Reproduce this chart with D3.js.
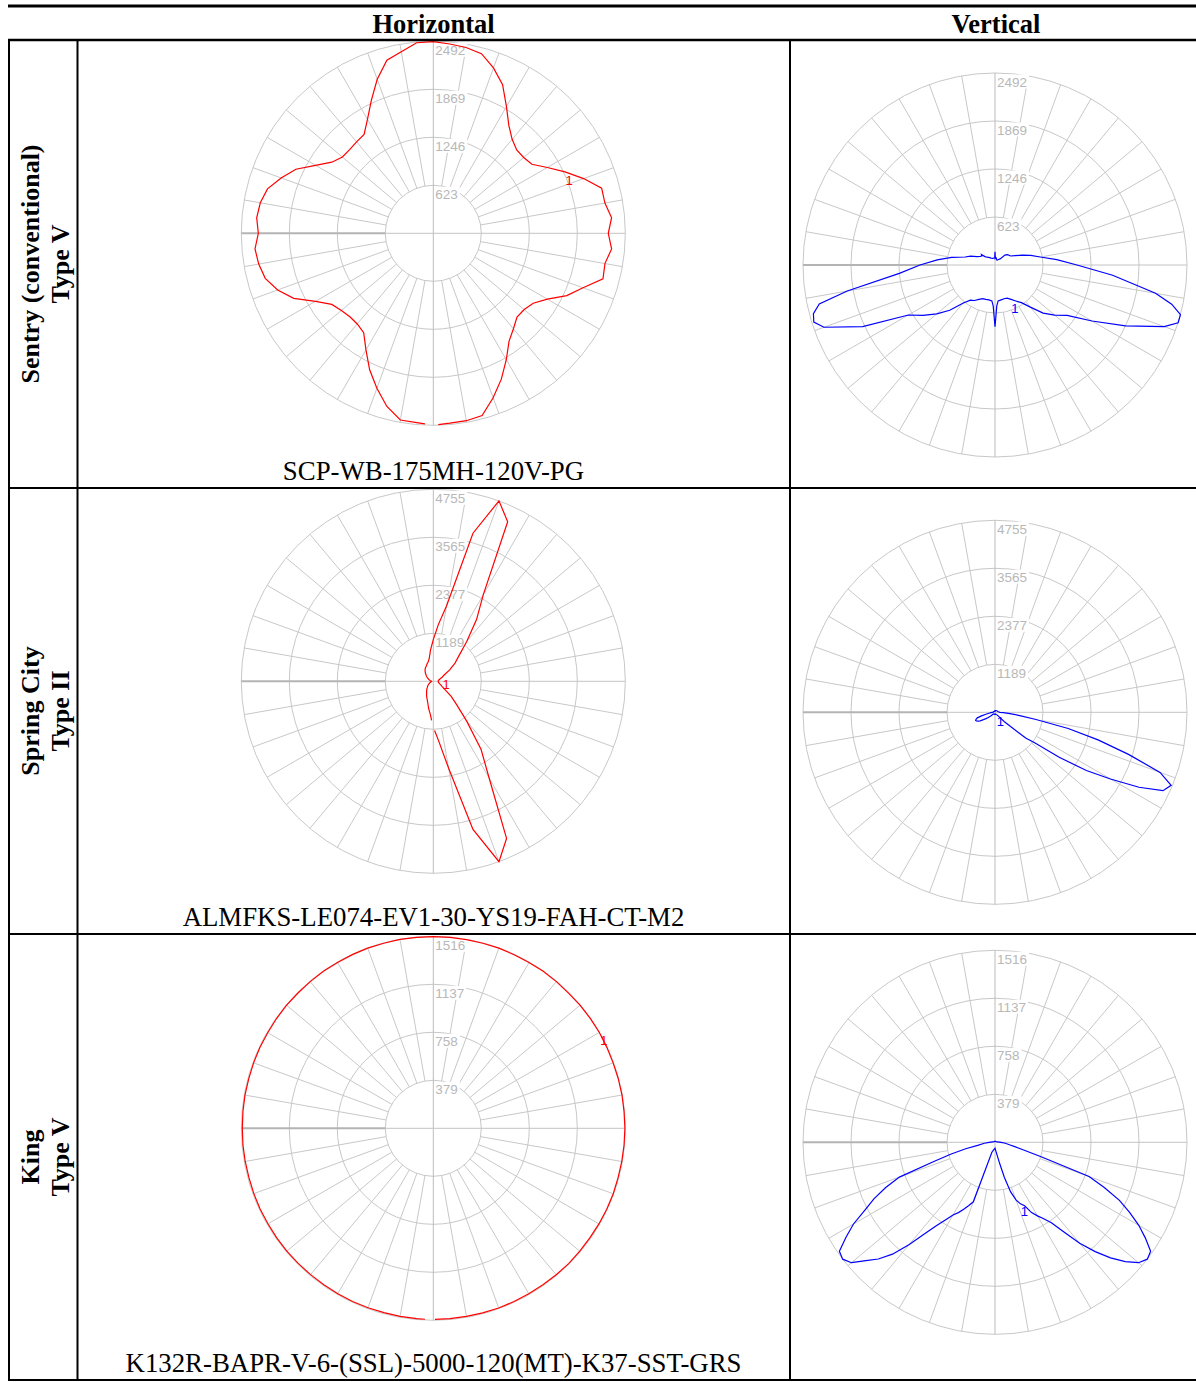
<!DOCTYPE html>
<html><head><meta charset="utf-8">
<script src="https://cdn.jsdelivr.net/npm/d3@7"></script>
<style>body{margin:0;background:#fff}svg{display:block}</style>
</head><body><svg id="chart" width="1196" height="1382"></svg>
<script>
// ---------------- DATA ----------------
const columnHeaders = ["Horizontal", "Vertical"];
const rowLabels = [["Sentry (conventional)", "Type V"], ["Spring City", "Type II"], ["King", "Type V"]];
const captions = ["SCP-WB-175MH-120V-PG", "ALMFKS-LE074-EV1-30-YS19-FAH-CT-M2", "K132R-BAPR-V-6-(SSL)-5000-120(MT)-K37-SST-GRS"];
const scaleMax = [2492, 4755, 1516];
const ringLabels = [["623", "1246", "1869", "2492"], ["1189", "2377", "3565", "4755"], ["379", "758", "1137", "1516"]];

// Horizontal plots: angle in degrees clockwise from top, 5 degree steps 0..355 (candela)
const hAngles = d3.range(0, 360, 5);
const h1Values = [2487, 2466, 2449, 2414, 2284, 2128, 1899, 1709, 1592, 1531, 1531, 1562,
  1709, 1886, 2076, 2262, 2262, 2323, 2271, 2323, 2262, 2280, 2068, 1912,
  1709, 1583, 1540, 1536, 1618, 1713, 1895, 2089, 2271, 2449, 2470, 2474,
  2487, 2466, 2461, 2327, 2141, 1955, 1748, 1575, 1536, 1531, 1557, 1609,
  1765, 1999, 2150, 2258, 2301, 2323, 2271, 2301, 2280, 2228, 2102, 1968,
  1765, 1609, 1540, 1536, 1549, 1566, 1709, 1903, 2128, 2327, 2392, 2483];
const h2Values = [1032, 1403, 1899, 3797, 4755, 4359, 2477, 1866, 1288, 900, 702, 495,
  310, 240, 182, 150, 128, 124, 124, 124, 124, 140, 165, 198,
  248, 347, 578, 817, 1288, 2064, 2765, 4293, 4755, 3797, 2188, 1469,
  1114, 826, 677, 537, 454, 396, 330, 289, 248, 206, 182, 149,
  124, 99, 83, 66, 50, 41, 41, 50, 66, 83, 107, 132,
  165, 198, 231, 272, 314, 355, 388, 413, 454, 495, 578, 784];
const h3Values = [1514, 1513, 1512, 1513, 1514, 1512, 1511, 1513, 1512, 1510, 1512, 1513,
  1514, 1512, 1511, 1512, 1513, 1512, 1513, 1512, 1511, 1510, 1512, 1511,
  1510, 1509, 1510, 1511, 1510, 1509, 1508, 1509, 1510, 1509, 1508, 1509,
  1508, 1509, 1508, 1507, 1508, 1509, 1508, 1507, 1508, 1509, 1510, 1509,
  1508, 1509, 1508, 1507, 1508, 1509, 1508, 1509, 1510, 1509, 1510, 1511,
  1510, 1511, 1512, 1511, 1512, 1513, 1512, 1513, 1514, 1513, 1514, 1513];
// open ends of each horizontal curve (near the bottom of the plot)
const hStartAngle = [182.5, 182.5, 182.5];
const hStartValue = [2475, 970, 1509];
const hEndAngle = [178.5, 178.5, 179.5];
const hEndValue = [2484, 1220, 1509];

// Vertical plots: vertical angle from nadir; right half (C0) and left half (C180)
const v1Angles = [0, 2.5, 5, 10, 15, 20, 25, 30, 35, 40, 45, 50, 55, 60, 65, 70, 72.5, 75, 77.5, 80, 85, 90,
  95, 100, 105, 110, 115, 120, 125, 127.5, 130, 135, 140, 145, 150, 155, 160, 165, 170, 175, 177.5, 180];
const v1Right = [801, 532, 467, 459, 454, 458, 493, 539, 597, 714, 883, 1012, 1142, 1454, 1869, 2336, 2492, 2492, 2349, 2116, 1532, 1064,
  805, 597, 480, 376, 286, 234, 221, 215, 208, 182, 104, 91, 78, 71, 69, 78, 91, 100, 91, 173];
const v1Left = [801, 532, 467, 459, 461, 465, 493, 532, 558, 649, 831, 987, 1142, 1298, 1895, 2362, 2466, 2440, 2336, 1947, 1246, 974,
  753, 571, 402, 337, 260, 221, 208, 221, 169, 143, 130, 117, 104, 97, 91, 91, 91, 91, 91, 173];

const v2Angles = [0, 10, 20, 30, 40, 45, 47.5, 50, 52.5, 55, 57.5, 60, 62.5, 65, 67.5, 70, 72.5, 75, 77.5, 80,
  82.5, 85, 87.5, 90, 100, 120, 150, 180];
const v2Right = [41, 41, 50, 66, 99, 330, 512, 991, 1238, 1940, 2683, 3302, 4020, 4590, 4722, 4350, 3467, 2642, 1857, 1032,
  619, 371, 206, 124, 83, 66, 50, 41];
const v2Left = [50, 50, 50, 50, 55, 59, 100, 149, 210, 272, 340, 421, 471, 508, 520, 495, 458, 347, 248, 173,
  130, 99, 70, 50, 40, 35, 30, 25];

const v3Angles = [0, 5, 10, 12.5, 15, 17.5, 20, 22.5, 25, 27.5, 30, 32.5, 35, 37.5, 40, 42.5, 45, 47.5, 50, 52.5,
  55, 57.5, 60, 62.5, 65, 67.5, 70, 72.5, 75, 77.5, 80, 85, 90, 100, 120, 150, 180];
const v3Right = [47, 66, 113, 174, 287, 411, 484, 526, 553, 626, 671, 716, 776, 890, 1040, 1171, 1290, 1395, 1479, 1516,
  1500, 1408, 1311, 1198, 1084, 934, 790, 387, 234, 160, 121, 82, 47, 20, 10, 8, 8];
const v3Left = [47, 53, 61, 66, 74, 82, 500, 540, 584, 626, 663, 724, 803, 908, 1053, 1198, 1303, 1382, 1479, 1516,
  1500, 1395, 1290, 1158, 1053, 934, 803, 511, 363, 237, 139, 84, 45, 20, 10, 8, 8];

// curve-number markers "1": [angle, value]
const hMarkers = [[68.6, 1895], [102, 322], [62.7, 1516]];
const vMarkers = [[24.9, 615], [29.4, 267], [22.9, 595]];

// ---------------- LAYOUT ----------------
const svg = d3.select("#chart");
const X0 = 8, XC1 = 77.5, XC2 = 790, XR = 1196;
const Y_TOP = 6, Y_HEAD = 40, ROW_Y = [40, 488, 934, 1380];
const R = 192;
const hCx = 433.3, vCx = 995;
const hCy = [233.3, 681.3, 1128.3];
const vCy = [265, 712.3, 1142.3];
const GRID = "#c8c8c8";

const hSeries = [h1Values, h2Values, h3Values];
const vSeries = [[v1Angles, v1Right, v1Left], [v2Angles, v2Right, v2Left], [v3Angles, v3Right, v3Left]];

svg.append("rect").attr("width", 1196).attr("height", 1382).attr("fill", "#fff");

function drawGrid(g, rScale, max, labels) {
  const rings = [1, 2, 3, 4].map(k => max * k / 4);
  g.selectAll("circle.ring").data(rings).enter().append("circle")
    .attr("r", d => rScale(d)).attr("fill", "none").attr("stroke", GRID).attr("stroke-width", 1);
  const spokes = d3.range(0, 360, 10).filter(a => a % 90 !== 0);
  g.selectAll("line.spoke").data(spokes).enter().append("line")
    .attr("x1", a => rScale(rings[0]) * Math.sin(a * Math.PI / 180))
    .attr("y1", a => -rScale(rings[0]) * Math.cos(a * Math.PI / 180))
    .attr("x2", a => rScale(max) * Math.sin(a * Math.PI / 180))
    .attr("y2", a => -rScale(max) * Math.cos(a * Math.PI / 180))
    .attr("stroke", GRID).attr("stroke-width", 1);
  // main axes
  g.append("line").attr("x1", 0).attr("x2", 0).attr("y1", -rScale(max)).attr("y2", rScale(max))
    .attr("stroke", "#bcbcbc").attr("stroke-width", 1);
  g.append("line").attr("x1", -rScale(rings[0])).attr("x2", rScale(max)).attr("y1", 0).attr("y2", 0)
    .attr("stroke", "#c4c4c4").attr("stroke-width", 1);
  g.append("line").attr("x1", -rScale(max)).attr("x2", -rScale(rings[0])).attr("y1", 0).attr("y2", 0)
    .attr("stroke", "#b4b4b4").attr("stroke-width", 2);
  // ring labels with white boxes
  rings.forEach((v, i) => {
    const y = -rScale(v);
    const t = g.append("text").attr("x", 2).attr("y", y + 13.5)
      .attr("font-family", "Liberation Sans, Arial, sans-serif").attr("font-size", 13.5)
      .attr("fill", "#b8b8b8").text(labels[i]);
    const w = t.node().getComputedTextLength();
    g.insert("rect", "text").attr("x", 1).attr("y", y + 1.5).attr("width", w + 3).attr("height", 14).attr("fill", "#fff");
  });
}

function marker(g, a, r, color) {
  g.append("text").attr("x", r * Math.sin(a * Math.PI / 180)).attr("y", -r * Math.cos(a * Math.PI / 180))
    .attr("text-anchor", "middle").attr("dy", "0.36em")
    .attr("font-family", "Liberation Sans, Arial, sans-serif").attr("font-size", 13)
    .attr("fill", color).text("1");
}

// ---------------- CHARTS ----------------
for (let i = 0; i < 3; i++) {
  const max = scaleMax[i];
  const rScale = d3.scaleLinear().domain([0, max]).range([0, R]);

  // horizontal
  const gh = svg.append("g").attr("transform", `translate(${hCx},${hCy[i]})`);
  drawGrid(gh, rScale, max, ringLabels[i]);
  const pts = hAngles.map((a, k) => [a, hSeries[i][k]]);
  const after = pts.filter(p => p[0] > hStartAngle[i]);
  const before = pts.filter(p => p[0] < hEndAngle[i]);
  const hPath = [[hStartAngle[i], hStartValue[i]], ...after, ...before, [hEndAngle[i], hEndValue[i]]];
  const hLine = d3.lineRadial().angle(d => d[0] * Math.PI / 180).radius(d => rScale(d[1]));
  gh.append("path").attr("d", hLine(hPath)).attr("fill", "none").attr("stroke", "#ff0000").attr("stroke-width", 1.2);
  marker(gh, hMarkers[i][0], rScale(hMarkers[i][1]), "#ff0000");

  // vertical
  const gv = svg.append("g").attr("transform", `translate(${vCx},${vCy[i]})`);
  drawGrid(gv, rScale, max, ringLabels[i]);
  const [va, vr, vl] = vSeries[i];
  const right = va.map((g, k) => [180 - g, vr[k]]);
  const left = va.map((g, k) => [180 + g, vl[k]]).reverse();
  const vLine = d3.lineRadial().angle(d => d[0] * Math.PI / 180).radius(d => rScale(d[1])).curve(d3.curveLinearClosed);
  gv.append("path").attr("d", vLine([...right, ...left])).attr("fill", "none").attr("stroke", "#0000ff").attr("stroke-width", 1.2);
  marker(gv, 180 - vMarkers[i][0], rScale(vMarkers[i][1]), "#0000ff");
}

// ---------------- TABLE ----------------
const tbl = svg.append("g").attr("stroke", "#000");
tbl.append("line").attr("x1", X0).attr("x2", XR).attr("y1", Y_TOP).attr("y2", Y_TOP).attr("stroke-width", 3);
tbl.append("line").attr("x1", X0).attr("x2", XR).attr("y1", Y_HEAD).attr("y2", Y_HEAD).attr("stroke-width", 2.5);
ROW_Y.slice(1).forEach(y => tbl.append("line").attr("x1", X0).attr("x2", XR).attr("y1", y).attr("y2", y).attr("stroke-width", 2));
[X0 + 1, XC1, XC2].forEach(x => tbl.append("line").attr("x1", x).attr("x2", x).attr("y1", Y_HEAD).attr("y2", ROW_Y[3] + 1).attr("stroke-width", 2));

const serif = "Liberation Serif, Times New Roman, serif";
svg.selectAll("text.head").data(columnHeaders).enter().append("text")
  .attr("x", (d, i) => i === 0 ? 433.5 : 996).attr("y", 33)
  .attr("text-anchor", "middle").attr("font-family", serif).attr("font-weight", "bold").attr("font-size", 26.5)
  .text(d => d);

captions.forEach((c, i) => {
  svg.append("text").attr("x", 433.5).attr("y", ROW_Y[i + 1] - 8)
    .attr("text-anchor", "middle").attr("font-family", serif).attr("font-size", 26.8).text(c);
});

rowLabels.forEach((lines, i) => {
  const cy = (ROW_Y[i] + ROW_Y[i + 1]) / 2;
  lines.forEach((l, j) => {
    svg.append("text").attr("transform", `translate(${30 + j * 30},${cy}) rotate(-90)`)
      .attr("text-anchor", "middle").attr("dy", "0.35em")
      .attr("font-family", serif).attr("font-weight", "bold").attr("font-size", 26).text(l);
  });
});
</script></body></html>
